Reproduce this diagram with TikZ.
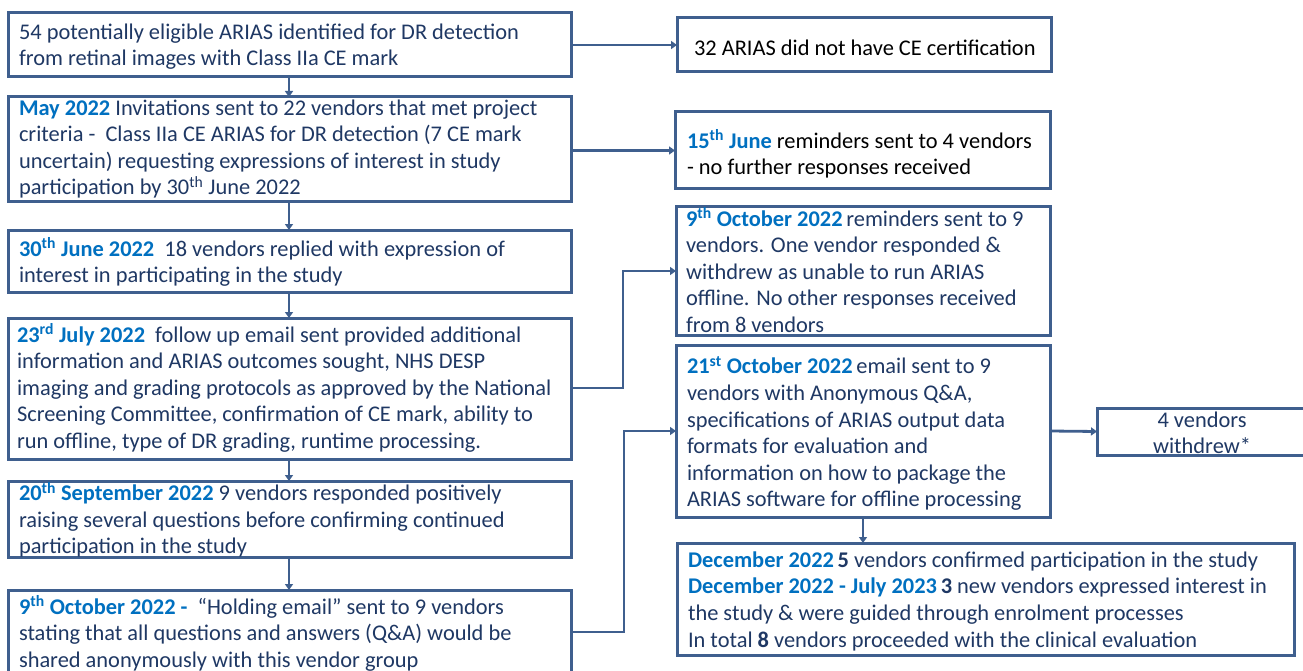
\documentclass[tikz,border=0pt]{standalone}
\usepackage{fontspec}
\setmainfont{Carlito}
\usetikzlibrary{arrows.meta,calc}
\definecolor{edge}{HTML}{3F5F8E}
\definecolor{navy}{HTML}{1F3864}
\definecolor{hlblue}{HTML}{0070C0}
\newcommand\hl[1]{{\bfseries\color{hlblue}#1}}
\newcommand\mkbox[5]{\node[box, minimum width={(#4-#2)*1pt}, minimum height={(#5-#3)*1pt}] (#1) at ({(#2+#4)/2},{(#3+#5)/2}) {};}
\tikzset{
  box/.style={draw=edge, line width=3pt, inner sep=0pt, outer sep=0pt, fill=white},
  txt/.style={inner sep=0pt, outer sep=0pt, align=left, text=navy,
    font=\fontsize{22.4}{26.6}\selectfont, execute at begin node=\strut, anchor=north west},
  arr/.style={draw=edge, line width=2.8pt, -{Triangle[width=8pt,length=6pt]}},
}
\begin{document}
\begin{tikzpicture}[x=1pt,y=-1pt]
\useasboundingbox (0,0) rectangle (1303,671);
\clip (0,0) rectangle (1303,671);
\fill[white] (0,0) rectangle (1303,671);
% left column boxes
\mkbox{B1}{8}{13}{571}{77}
\mkbox{B2}{8}{97}{571}{202}
\mkbox{B3}{8}{230}{571}{292}
\mkbox{B4}{8}{318}{571}{459}
\mkbox{B5}{8}{481}{571}{557}
\mkbox{B6}{8}{590}{571}{674}
% right column boxes
\mkbox{R1}{677}{18}{1051}{72}
\mkbox{R2}{675}{112}{1050}{189}
\mkbox{R3}{676}{207}{1050}{335}
\mkbox{R4}{676}{345}{1050}{517}
\mkbox{R5}{1097}{408}{1310}{455}
\mkbox{R6}{677}{543}{1294}{655}
% texts
\node[txt] (T1) at (19,23.5) {54 potentially eligible ARIAS identified for DR detection\\from retinal images with Class IIa CE mark};
\node[txt] (T2) at (19,99.5) {\hl{May 2022} Invitations sent to 22 vendors that met project\\criteria -\ \ Class IIa CE ARIAS for DR detection (7 CE mark\\uncertain) requesting expressions of interest in study\\participation by 30\textsuperscript{th} June 2022};
\node[txt] (T3) at (19,237.5) {\hl{30\textsuperscript{th} June 2022}\ \ 18 vendors replied with expression of\\interest in participating in the study};
\node[txt] (T4) at (17,323.5) {\hl{23\textsuperscript{rd} July 2022}\ \ follow up email sent provided additional\\information and ARIAS outcomes sought, NHS DESP\\imaging and grading protocols as approved by the National\\Screening Committee, confirmation of CE mark, ability to\\run offline, type of DR grading, runtime processing.};
\node[txt] (T5) at (19,482) {\hl{20\textsuperscript{th} September 2022} 9 vendors responded positively\\raising several questions before confirming continued\\participation in the study};
\node[txt] (T6) at (19,595.5) {\hl{9\textsuperscript{th} October 2022 -}\ \ “Holding email” sent to 9 vendors\\stating that all questions and answers (Q\&A) would be\\shared anonymously with this vendor group};
\node[txt, text=black] (U1) at (694,36.5) {32 ARIAS did not have CE certification};
\node[txt, text=black] (U2) at (687,129.5) {\hl{15\textsuperscript{th} June} reminders sent to 4 vendors\\- no further responses received};
\node[txt] (U3) at (686,207.5) {\hl{9\textsuperscript{th} October 2022}\,reminders sent to 9\\vendors. One vendor responded \&\\withdrew as unable to run ARIAS\\offline. No other responses received\\from 8 vendors};
\node[txt] (U4) at (687,356.5) {\hl{21\textsuperscript{st} October 2022}\,email sent to 9\\vendors with Anonymous Q\&A,\\specifications of ARIAS output data\\formats for evaluation and\\information on how to package the\\ARIAS software for offline processing};
\node[txt, anchor=north, align=center] (U5) at (1202,411.5) {4 vendors\\withdrew*};
\node[txt] (U6) at (688,551.5) {\hl{December 2022}\,\textbf{5} vendors confirmed participation in the study\\\hl{December 2022 - July 2023}\,\textbf{3} new vendors expressed interest in\\the study \& were guided through enrolment processes\\In total \textbf{8} vendors proceeded with the clinical evaluation};
% vertical arrows in left column
\coordinate (cx) at (289,0);
\draw[arr] (B1.south -| cx) -- (B2.north -| cx);
\draw[arr] (B2.south -| cx) -- (B3.north -| cx);
\draw[arr] (B3.south -| cx) -- (B4.north -| cx);
\draw[arr] (B4.south -| cx) -- (B5.north -| cx);
\draw[arr] (B5.south -| cx) -- (B6.north -| cx);
% horizontal arrows
\draw[arr] (B1.east) -- (R1.west);
\draw[arr] (B2.east |- R2.west) -- (R2.west);
\coordinate (j1) at (623,388);
\coordinate (j2) at (624,632);
\draw[arr] (B4.east |- j1) -- (j1) |- (R3.west);
\draw[arr] (B6.east |- j2) -- (j2) |- (R4.west);
\draw[arr] (R4.east) -- (R5.west);
\draw[arr] (R4.south) -- (R6.north -| R4.south);
\end{tikzpicture}
\end{document}
